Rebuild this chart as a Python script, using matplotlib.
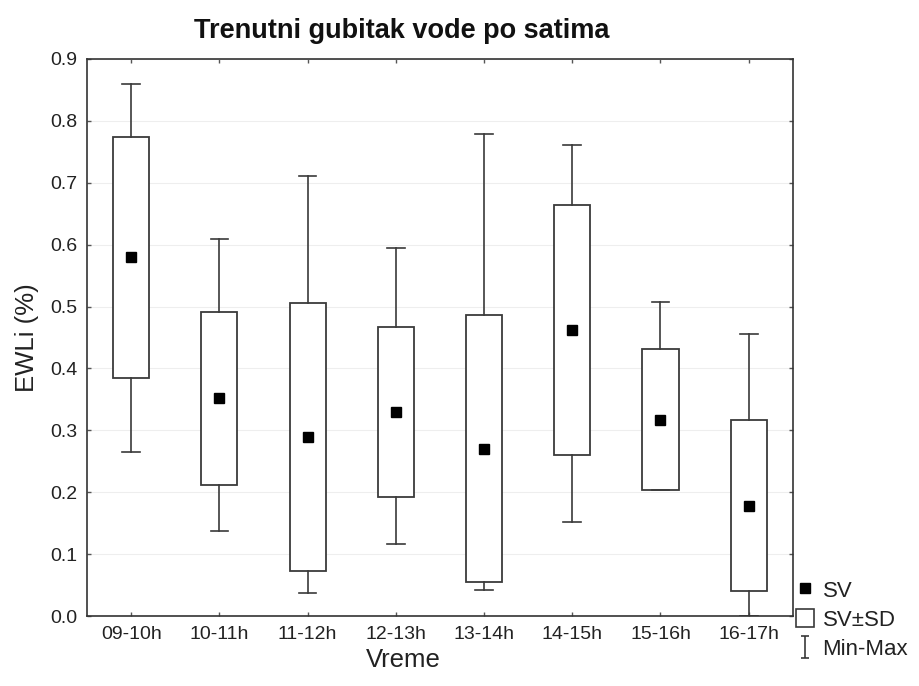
import matplotlib
matplotlib.use('Agg')
from matplotlib import pyplot as plt
from matplotlib.lines import Line2D
from matplotlib.patches import Patch
from matplotlib.path import Path
import numpy as np

# hourly instantaneous water loss: mean, mean +/- SD, min, max
hours = ['09-10h', '10-11h', '11-12h', '12-13h', '13-14h', '14-15h', '15-16h', '16-17h']
sv = [0.580, 0.352, 0.289, 0.330, 0.270, 0.462, 0.317, 0.178]
sd_hi = [0.774, 0.491, 0.506, 0.467, 0.486, 0.664, 0.432, 0.317]
sd_lo = [0.385, 0.211, 0.072, 0.193, 0.055, 0.260, 0.203, 0.040]
v_min = [0.265, 0.138, 0.038, 0.117, 0.042, 0.152, 0.203, 0.0]
v_max = [0.860, 0.609, 0.711, 0.595, 0.779, 0.761, 0.508, 0.456]

plt.rcParams['font.family'] = ['Liberation Sans', 'DejaVu Sans']

fig = plt.figure(figsize=(9.19, 6.86), dpi=100)
ax = fig.add_axes([0.0947, 0.102, 0.768, 0.812])

stats = []
for i in range(len(hours)):
    stats.append({'med': sv[i], 'mean': sv[i], 'q1': sd_lo[i], 'q3': sd_hi[i],
                  'whislo': v_min[i], 'whishi': v_max[i], 'label': hours[i]})

lc = '#3a3a3a'
ax.bxp(stats, positions=range(len(hours)), widths=0.41, capwidths=0.2,
       showmeans=True, showfliers=False, patch_artist=True,
       boxprops=dict(facecolor='white', edgecolor=lc, linewidth=1.3),
       whiskerprops=dict(color=lc, linewidth=1.2),
       capprops=dict(color=lc, linewidth=1.2),
       medianprops=dict(linewidth=0),
       meanprops=dict(marker='s', markerfacecolor='black', markeredgecolor='black', markersize=7))

ax.set_xlim(-0.5, len(hours) - 0.5)
ax.set_ylim(0, 0.9)
ax.set_yticks(np.arange(0, 0.91, 0.1))
ax.set_yticklabels(['%.1f' % v for v in np.arange(0, 0.91, 0.1)])
ax.set_xticks(range(len(hours)))
ax.set_xticklabels(hours)
ax.tick_params(direction='in', top=True, right=True, length=3, width=1, color='#555555',
               labelsize=14, pad=7, labelcolor='#222222')
ax.grid(axis='y', color='#eeeeee', linewidth=0.8)
ax.set_axisbelow(True)
for s in ax.spines.values():
    s.set_color('#333333')
    s.set_linewidth(1.2)

ax.set_xlabel('Vreme', fontsize=18.5, color='#222222')
ax.xaxis.set_label_coords(0.448, -0.057, transform=ax.transAxes)
ax.xaxis.label.set_va('top')
ax.set_ylabel('EWLi (%)', fontsize=18.5, labelpad=8, color='#222222')
fig.text(402 / 919, 0.945, 'Trenutni gubitak vode po satima', fontsize=19.5,
         fontweight='bold', ha='center', va='baseline', color='#111111')

ibeam = Path([(-0.4, 1), (0.4, 1), (0, 1), (0, -1), (-0.4, -1), (0.4, -1)],
             [Path.MOVETO, Path.LINETO, Path.MOVETO, Path.LINETO, Path.MOVETO, Path.LINETO])
handles = [Line2D([], [], marker='s', color='black', linestyle='none', markersize=7),
           Patch(facecolor='white', edgecolor=lc, linewidth=1.2),
           Line2D([], [], marker=ibeam, color=lc, linestyle='none', markersize=16,
                  markeredgewidth=1.2)]
fig.legend(handles, ['SV', 'SV±SD', 'Min-Max'], loc='upper left',
           bbox_to_anchor=(0.866, 0.155), frameon=False, fontsize=16,
           handlelength=0.8, handleheight=0.9, handletextpad=0.4, labelspacing=0.33,
           borderpad=0, borderaxespad=0, labelcolor='#222222')

fig.savefig('out.png', dpi=100)
